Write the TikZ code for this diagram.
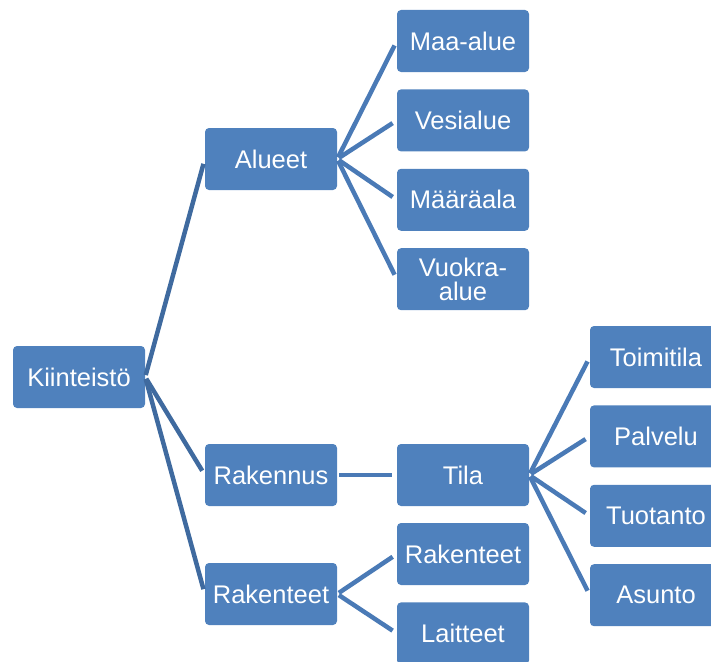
\documentclass[tikz,border=0pt]{standalone}
\usepackage{fontspec}
\setmainfont{Liberation Sans}
\usetikzlibrary{positioning}
\definecolor{ktfill}{HTML}{4F81BD}
\definecolor{ktline}{HTML}{4A7AB6}
\definecolor{ktroot}{HTML}{3F6A9F}
\tikzset{
  kt/box/.style={fill=ktfill, draw=none, rounded corners=4pt, text=white, align=center, minimum width=132pt, minimum height=62pt, inner sep=2pt, font=\fontsize{25.5}{23.5}\selectfont},
  kt/link/.style={draw=ktline, line width=4.5pt, shorten <=2pt, shorten >=5pt},
  kt/rootlink/.style={kt/link, draw=ktroot},
}

\begin{document}
\begin{tikzpicture}[x=1pt, y=-1pt, node distance=17pt]
  \path[use as bounding box, clip] (0,0) rectangle (711,661);

  % Juuri ja toinen taso
  \node[kt/box] (kiint) at (79,377) {Kiinteistö};
  \node[kt/box] (alueet) at (271,159) {Alueet};
  \node[kt/box] (rakennus) at (271,475) {Rakennus};
  \node[kt/box] (rakenteet) at (271,594) {Rakenteet};

  % Alueet
  \node[kt/box] (maa) at (463,41) {Maa-alue};
  \node[kt/box, below=of maa] (vesi) {Vesialue};
  \node[kt/box, below=of vesi] (maara) {Määräala};
  \node[kt/box, below=of maara] (vuokra) {Vuokra-\\alue};

  % Rakennus ja rakenteet
  \node[kt/box] (tila) at (463,475) {Tila};
  \node[kt/box] (rak) at (463,554) {Rakenteet};
  \node[kt/box, below=of rak] (lait) {Laitteet};

  % Tilan käyttö
  \node[kt/box] (toimi) at (656,357) {Toimitila};
  \node[kt/box, below=of toimi] (palv) {Palvelu};
  \node[kt/box, below=of palv] (tuot) {Tuotanto};
  \node[kt/box, below=of tuot] (asun) {Asunto};

  % Yhteydet
  \foreach \c in {alueet, rakennus, rakenteet}
    \draw[kt/rootlink] (kiint.east) -- (\c.west);
  \foreach \c in {maa, vesi, maara, vuokra}
    \draw[kt/link] (alueet.east) -- (\c.west);
  \draw[kt/link] (rakennus.east) -- (tila.west);
  \foreach \c in {rak, lait}
    \draw[kt/link] (rakenteet.east) -- (\c.west);
  \foreach \c in {toimi, palv, tuot, asun}
    \draw[kt/link] (tila.east) -- (\c.west);

\end{tikzpicture}
\end{document}
